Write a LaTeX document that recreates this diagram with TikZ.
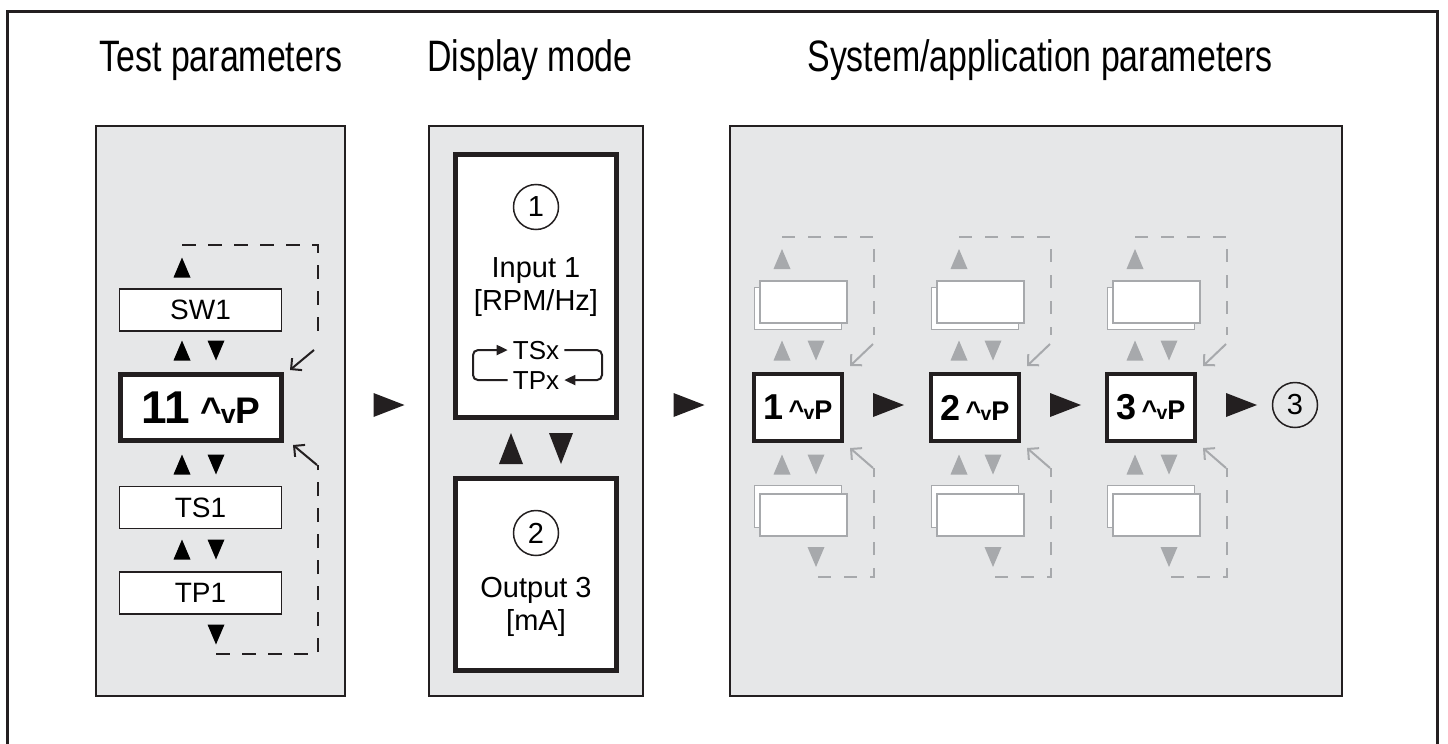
\documentclass[tikz,border=0pt]{standalone}
\usepackage{fontspec}
\setmainfont{Liberation Sans}
\newfontfamily\headfont[FakeStretch=0.77]{Liberation Sans}
\usetikzlibrary{arrows.meta,positioning}
\definecolor{panelgray}{HTML}{E6E7E8}
\definecolor{ink}{HTML}{231F20}
\definecolor{faded}{HTML}{A7A9AC}
\newcommand{\updnP}{\textasciicircum\kern-.03em\scalebox{.72}{v}P}

\begin{document}
\begin{tikzpicture}[x=1pt, y=-1pt,
    heading/.style={anchor=base, inner sep=0, font=\headfont\fontsize{44}{50}\selectfont},
    panel/.style={rectangle, draw=ink, fill=panelgray, line width=2pt, minimum height=570pt},
    param/.style={rectangle, draw=ink, fill=white, line width=1.6pt, minimum width=162pt, minimum height=42pt, font=\fontsize{28}{32}\selectfont},
    display/.style={rectangle, draw=ink, fill=white, line width=5pt, minimum width=161pt},
    current/.style={rectangle, draw=ink, fill=white, line width=4pt, minimum width=88pt, minimum height=67pt},
    ghost/.style={rectangle, draw=faded, fill=white, line width=1.6pt, minimum width=87pt, minimum height=42pt},
    number/.style={circle, draw=ink, line width=1.5pt, minimum size=45pt, inner sep=0, font=\fontsize{29}{29}\selectfont},
    txt/.style={anchor=base, inner sep=0, font=\fontsize{29}{33}\selectfont},
    small/.style={anchor=base, inner sep=0, font=\fontsize{26}{26}\selectfont},
    backline/.style={dash pattern=on 14pt off 12pt, line width=2pt},
    hint/.style={line width=2pt, -{Straight Barb[angle=90:11pt]}},
    swap/.style={line width=2pt, rounded corners=5pt, -{Triangle[length=11pt,width=10pt]}},
    tri up/.pic={\fill (-8.5,10) -- (0,-10) -- (8.5,10) -- cycle;},
    tri down/.pic={\fill (-8.5,-10) -- (0,10) -- (8.5,-10) -- cycle;},
    big up/.pic={\fill (-12,15.5) -- (0,-15.5) -- (12,15.5) -- cycle;},
    big down/.pic={\fill (-12,-15.5) -- (0,15.5) -- (12,-15.5) -- cycle;},
    go/.pic={\fill (-15.5,-12) -- (15.5,0) -- (-15.5,12) -- cycle;}]
  \useasboundingbox (0,0) rectangle (1448,744);
  \draw[ink, line width=3pt] (7.5,744) |- (1437.5,11.5) -- (1437.5,744);

  % headings
  \node[heading](testhead) at (221,71){Test parameters};
  \node[heading](disphead) at (530,71){Display mode};
  \node[heading](syshead) at (1040,71){System/application parameters};

  \node[panel, minimum width=249pt](testpanel) at (220.5,411){};
  \node[panel, minimum width=214pt](displaypanel) at (536,411){};
  \node[panel, minimum width=612pt](systempanel) at (1036,411){};

  % test parameters
  \node[param](sw1) at (200.5,310){SW1};
  \node[display, minimum height=66pt](menu) at (201,407.5){{\fontsize{46}{46}\selectfont\bfseries 11}\hspace{10pt}{\fontsize{37}{37}\selectfont\bfseries\updnP}};
  \node[param](ts1) at (200.5,507.5){TS1};
  \node[param](tp1) at (200.5,593){TP1};
  \pic at (182,267.5){tri up};
  \foreach \y in {350.5,464.5,549.5}{
    \pic at (182,\y){tri up};
    \pic at (216,\y){tri down};
  }
  \pic at (216,634.5){tri down};
  \coordinate (topA) at (182,245);
  \coordinate (topB) at (318,337);
  \coordinate (botA) at (216,654);
  \coordinate (botB) at (318,465);
  \draw[ink, backline] (topA) -| (topB);
  \draw[ink, backline] (botA) -| (botB);
  \coordinate (turnA) at (314,350);
  \coordinate (turnB) at (317,465);
  \draw[ink, hint] (turnA) -- ([shift={(6,-2)}]menu.north east);
  \draw[ink, hint] (turnB) -- ([shift={(9,2)}]menu.south east);
  \pic[color=ink] at (389,405){go};

  % display mode
  \node[display, minimum height=263pt](input) at (536,286){};
  \node[number](no1) at (536,207){1};
  \node[txt](inname) at (536,277){Input 1};
  \node[txt](inunit) at (536,310){[RPM/Hz]};
  \node[small](tsx) at (536,359){TSx};
  \node[small](tpx) at (536,389){TPx};
  \coordinate (swapL) at (473,365);
  \coordinate (swapR) at (602,365);
  \draw[ink, swap] ([xshift=-5pt]tpx.west) -| (swapL) |- ([xshift=-5pt]tsx.west);
  \draw[ink, swap] ([xshift=5pt]tsx.east) -| (swapR) |- ([xshift=5pt]tpx.east);
  \pic[color=ink] at (511,448.5){big up};
  \pic[color=ink] at (561,448.5){big down};
  \node[display, minimum height=192pt](output) at (536,574.5){};
  \node[number](no2) at (536,533){2};
  \node[txt](outname) at (536,597){Output 3};
  \node[txt](outunit) at (536,630){[mA]};
  \pic[color=ink] at (689,405){go};

  % system/application parameters
  \foreach \n/\cx in {1/798,2/975,3/1151}{
    \node[ghost](back\n) at (\cx,308.5){};
    \node[ghost](front\n) at (\cx+5.5,302){};
    \node[current](level\n) at (\cx,407.5){{\fontsize{36}{36}\selectfont\bfseries\n}\hspace{5pt}{\fontsize{27}{27}\selectfont\bfseries\updnP}};
    \node[ghost](lowback\n) at (\cx,506.5){};
    \node[ghost](lowfront\n) at (\cx+5.5,515){};
    \pic[color=faded] at (\cx-16,259){tri up};
    \pic[color=faded] at (\cx-16,350.5){tri up};
    \pic[color=faded] at (\cx+18,350.5){tri down};
    \pic[color=faded] at (\cx-16,464.5){tri up};
    \pic[color=faded] at (\cx+18,464.5){tri down};
    \pic[color=faded] at (\cx+18,557){tri down};
    \coordinate (sTop\n) at (\cx-16,237);
    \coordinate (eTop\n) at (\cx+76,335);
    \coordinate (sBot\n) at (\cx+20,577);
    \coordinate (eBot\n) at (\cx+76,468);
    \draw[faded, backline, dash pattern=on 13pt off 13pt] (sTop\n) -| (eTop\n);
    \draw[faded, backline, dash pattern=on 13pt off 13pt] (sBot\n) -| (eBot\n);
    \coordinate (bendA\n) at (\cx+75,344);
    \coordinate (bendB\n) at (\cx+75,468);
    \draw[faded, hint] (bendA\n) -- ([shift={(6,-6)}]level\n.north east);
    \draw[faded, hint] (bendB\n) -- ([shift={(6,5)}]level\n.south east);
    \pic[color=ink] at (\cx+90.5,405){go};
  }
  \node[number](no3) at (1295,405){3};
\end{tikzpicture}
\end{document}
